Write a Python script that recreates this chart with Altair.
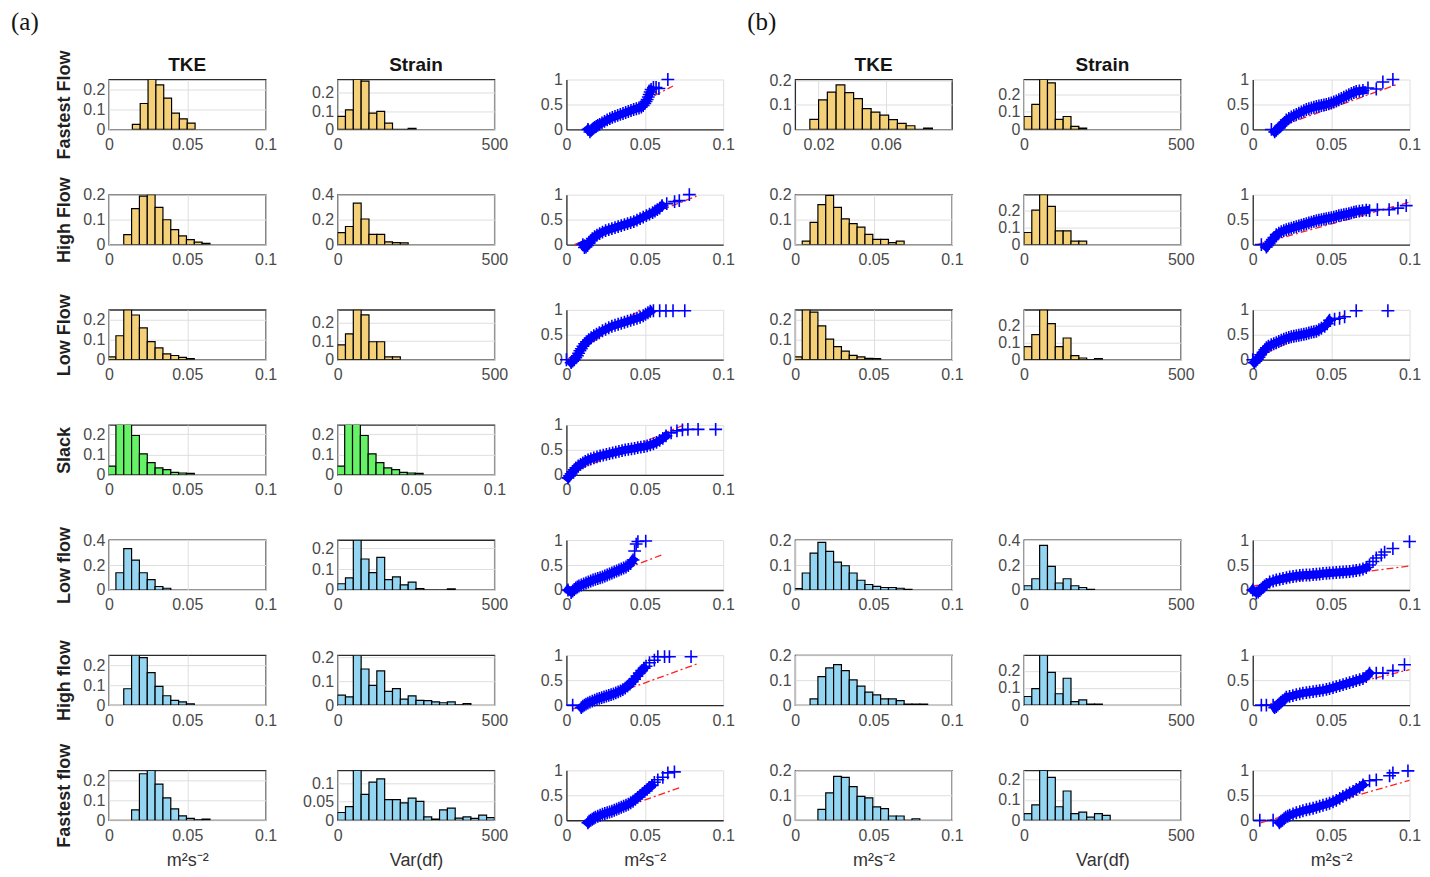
import altair as alt
import pandas as pd

# ---------------- labels ----------------
ROW_NAMES = ["Fastest Flow", "High Flow", "Low Flow", "Slack", "Low flow", "High flow", "Fastest flow"]
COL_TITLES = ["TKE", "Strain"]
X_UNIT = "m²s⁻²"
X_STRAIN = "Var(df)"

YELLOW = "#F4D079"
GREEN = "#66F266"
BLUE = "#94D6F2"
ROW_COLORS = [YELLOW, YELLOW, YELLOW, GREEN, BLUE, BLUE, BLUE]

# ---------------- histogram values (probability per bin) ----------------
a_tke_start = [0.015, 0.0095, -0.0005, -0.0005, 0.0045, 0.0095, 0.0145]
a_tke_width = [0.005, 0.005, 0.005, 0.005, 0.005, 0.005, 0.005]
a_tke_h0 = [0.025, 0.13, 0.25, 0.223, 0.157, 0.082, 0.053, 0.032]
a_tke_h1 = [0.04, 0.145, 0.195, 0.201, 0.15, 0.1, 0.06, 0.035, 0.02, 0.01, 0.005]
a_tke_h2 = [0.014, 0.12, 0.25, 0.224, 0.159, 0.091, 0.059, 0.029, 0.021, 0.012, 0.005]
a_tke_h3 = [0.043, 0.25, 0.25, 0.193, 0.103, 0.06, 0.034, 0.026, 0.012, 0.009, 0.007]
a_tke_h4 = [0.138, 0.331, 0.24, 0.138, 0.083, 0.028, 0.014]
a_tke_h5 = [0.082, 0.25, 0.238, 0.163, 0.094, 0.047, 0.024, 0.016, 0.007]
a_tke_h6 = [0.052, 0.233, 0.25, 0.181, 0.112, 0.057, 0.022, 0.009, 0.002, 0.006]
a_tke_ymax = [0.25, 0.201, 0.25, 0.245, 0.4, 0.25, 0.25]
a_tke_yticks = [[0, 0.1, 0.2], [0, 0.1, 0.2], [0, 0.1, 0.2], [0, 0.1, 0.2],
                [0, 0.2, 0.4], [0, 0.1, 0.2], [0, 0.1, 0.2]]

a_str_start = [0, 0, 0, -0.0005, 0, 0, 0]
a_str_width = [25, 25, 25, 0.005, 25, 25, 25]
a_str_h0 = [0.071, 0.107, 0.272, 0.263, 0.089, 0.098, 0.034, 0, 0, 0.006]
a_str_h1 = [0.096, 0.145, 0.332, 0.205, 0.082, 0.082, 0.022, 0.016, 0.014]
a_str_h2 = [0.08, 0.14, 0.27, 0.242, 0.097, 0.097, 0.015, 0.015]
a_str_h3 = [0.043, 0.25, 0.25, 0.193, 0.103, 0.06, 0.034, 0.026, 0.012, 0.009, 0.007]
a_str_h4 = [0.03, 0.058, 0.24, 0.149, 0.083, 0.157, 0.05, 0.063, 0.025, 0.038, 0.007, 0, 0, 0, 0.005]
a_str_h5 = [0.042, 0.035, 0.21, 0.152, 0.083, 0.144, 0.058, 0.069, 0.025, 0.039, 0.02, 0.019,
            0.014, 0.01, 0.014, 0.001, 0.006]
a_str_h6 = [0.021, 0.037, 0.135, 0.07, 0.103, 0.112, 0.056, 0.056, 0.047, 0.06, 0.051, 0.009,
            0.003, 0.028, 0.033, 0.006, 0.009, 0.005, 0.014, 0.007]
a_str_ymax = [0.272, 0.4, 0.27, 0.245, 0.24, 0.21, 0.135]
a_str_yticks = [[0, 0.1, 0.2], [0, 0.2, 0.4], [0, 0.1, 0.2], [0, 0.1, 0.2],
                [0, 0.1, 0.2], [0, 0.1, 0.2], [0, 0.05, 0.1]]

b_tke_start = [0.0148, 0.0045, -0.0005, -0.0005, 0.0095, 0.0145]
b_tke_width = [0.0052, 0.005, 0.005, 0.005, 0.005, 0.005]
b_tke_h0 = [0.041, 0.12, 0.152, 0.181, 0.15, 0.125, 0.085, 0.07, 0.058, 0.04, 0.025, 0.015, 0, 0.005]
b_tke_h1 = [0.014, 0.089, 0.16, 0.197, 0.149, 0.103, 0.084, 0.07, 0.041, 0.021, 0.021, 0.008, 0.014]
b_tke_h2 = [0.014, 0.25, 0.238, 0.169, 0.103, 0.066, 0.043, 0.022, 0.014, 0.007, 0.005]
b_tke_h3 = [0.006, 0.068, 0.148, 0.191, 0.155, 0.112, 0.097, 0.068, 0.039, 0.022, 0.0145, 0.01,
            0.01, 0.007, 0.003]
b_tke_h4 = [0.025, 0.114, 0.149, 0.162, 0.138, 0.101, 0.076, 0.052, 0.041, 0.025, 0.025, 0.018,
            0.004, 0.004, 0.004]
b_tke_h5 = [0.044, 0.11, 0.176, 0.172, 0.135, 0.096, 0.09, 0.054, 0.047, 0.017, 0.017, 0, 0.006]
b_tke_ymax = [0.203, 0.2, 0.25, 0.2, 0.2, 0.2]
b_tke_xdom0 = [0.0061, 0.0992]
b_tke_xticks0 = [0.02, 0.06]

b_str_h0 = [0.074, 0.143, 0.285, 0.266, 0.057, 0.074, 0.017, 0.008]
b_str_h1 = [0.07, 0.2, 0.29, 0.222, 0.08, 0.08, 0.02, 0.02]
b_str_h2 = [0.076, 0.146, 0.29, 0.21, 0.076, 0.126, 0.024, 0.01, 0, 0.006]
b_str_h3 = [0.034, 0.09, 0.358, 0.189, 0.056, 0.09, 0.034, 0.02, 0.006]
b_str_h4 = [0.05, 0.096, 0.29, 0.19, 0.066, 0.156, 0.02, 0.03, 0.006, 0.006]
b_str_h5 = [0.032, 0.075, 0.244, 0.21, 0.066, 0.143, 0.032, 0.04, 0.015, 0.032, 0.024]
b_str_ymax = [0.285, 0.29, 0.29, 0.4, 0.29, 0.244]
b_str_yticks = [[0, 0.1, 0.2], [0, 0.1, 0.2], [0, 0.1, 0.2], [0, 0.2, 0.4], [0, 0.1, 0.2], [0, 0.1, 0.2]]

# ---------------- QQ plot values ----------------
qq_a0_x = [0.0137, 0.0150, 0.0158, 0.0165, 0.0172, 0.0180, 0.0190, 0.0200, 0.0212, 0.0227, 0.0243, 0.0260,
           0.0277, 0.0293, 0.0310, 0.0327, 0.0344, 0.0361, 0.0378, 0.0395, 0.0412, 0.0429, 0.0446, 0.0463,
           0.0478, 0.0490, 0.0500, 0.0508, 0.0515, 0.0522, 0.0528, 0.0534, 0.0540, 0.0555, 0.0572, 0.0590,
           0.0647]
qq_a0_y = [0.0, -0.05, -0.02, 0.0, 0.02, 0.04, 0.06, 0.08, 0.10, 0.13, 0.16, 0.19, 0.215, 0.24, 0.26, 0.28,
           0.30, 0.32, 0.34, 0.36, 0.38, 0.40, 0.415, 0.43, 0.45, 0.48, 0.52, 0.56, 0.60, 0.65, 0.70, 0.75,
           0.80, 0.84, 0.84, 0.82, 1.0]
qq_a0_lx = [0.0137, 0.068]
qq_a0_ly = [-0.02, 0.87]

qq_a1_x = [0.0105, 0.0115, 0.0125, 0.0135, 0.0145, 0.0155, 0.0165, 0.0180, 0.0195, 0.0212, 0.0230, 0.0250,
           0.0270, 0.0290, 0.0310, 0.0330, 0.0350, 0.0370, 0.0390, 0.0410, 0.0430, 0.0450, 0.0470, 0.0490,
           0.0510, 0.0530, 0.0550, 0.0565, 0.0580, 0.0595, 0.0610, 0.0640, 0.0690, 0.0720, 0.0784]
qq_a1_y = [0.0, -0.06, -0.05, -0.02, 0.03, 0.08, 0.12, 0.16, 0.19, 0.22, 0.25, 0.28, 0.30, 0.32, 0.34, 0.36,
           0.38, 0.40, 0.42, 0.44, 0.46, 0.49, 0.52, 0.55, 0.58, 0.61, 0.64, 0.67, 0.70, 0.73, 0.78, 0.82,
           0.86, 0.88, 1.0]
qq_a1_lx = [0.005, 0.083]
qq_a1_ly = [0.0, 0.97]

qq_a2_x = [0.0, 0.003, 0.004, 0.005, 0.006, 0.007, 0.0078, 0.0086, 0.0095, 0.0105, 0.0116, 0.0128, 0.0142,
           0.0158, 0.0175, 0.0192, 0.021, 0.023, 0.025, 0.027, 0.029, 0.031, 0.033, 0.035, 0.037, 0.039,
           0.041, 0.043, 0.045, 0.047, 0.049, 0.0505, 0.052, 0.0535, 0.0555, 0.0595, 0.0635, 0.068, 0.0755]
qq_a2_y = [0.0, -0.06, -0.03, 0.0, 0.04, 0.08, 0.13, 0.18, 0.22, 0.27, 0.32, 0.36, 0.40, 0.44, 0.48, 0.51,
           0.54, 0.58, 0.61, 0.64, 0.67, 0.69, 0.71, 0.73, 0.75, 0.77, 0.79, 0.81, 0.83, 0.85, 0.88, 0.91,
           0.94, 0.97, 0.98, 0.98, 0.98, 0.98, 0.98]
qq_a2_lx = [0.001, 0.048]
qq_a2_ly = [0.02, 1.02]

qq_a3_x = [0.001, 0.002, 0.003, 0.004, 0.005, 0.006, 0.0075, 0.009, 0.0105, 0.012, 0.0138, 0.0156, 0.0175,
           0.0195, 0.0215, 0.0235, 0.0255, 0.0275, 0.0295, 0.0315, 0.0335, 0.0355, 0.0375, 0.0395, 0.0415,
           0.0435, 0.0455, 0.0475, 0.0495, 0.0515, 0.0535, 0.0555, 0.0575, 0.0595, 0.0615, 0.0635, 0.0668,
           0.0705, 0.074, 0.0775, 0.084, 0.0952]
qq_a3_y = [-0.06, -0.02, 0.02, 0.06, 0.1, 0.14, 0.18, 0.21, 0.24, 0.27, 0.3, 0.32, 0.34, 0.36, 0.38, 0.395,
           0.41, 0.425, 0.44, 0.455, 0.47, 0.485, 0.5, 0.51, 0.52, 0.53, 0.545, 0.555, 0.565, 0.58, 0.6,
           0.62, 0.65, 0.69, 0.73, 0.78, 0.84, 0.88, 0.9, 0.91, 0.91, 0.91]
qq_a3_lx = [0.0, 0.075]
qq_a3_ly = [0.0, 1.0]

qq_a4_x = [0.001, 0.003, 0.004, 0.005, 0.006, 0.007, 0.008, 0.0095, 0.011, 0.0125, 0.014, 0.0155, 0.017,
           0.0185, 0.02, 0.0215, 0.023, 0.0245, 0.026, 0.0275, 0.029, 0.0305, 0.032, 0.0335, 0.035, 0.0365,
           0.038, 0.0395, 0.041, 0.0425, 0.0435, 0.0445, 0.0456, 0.0506]
qq_a4_y = [0.0, -0.05, -0.02, 0.01, 0.04, 0.06, 0.08, 0.1, 0.12, 0.14, 0.16, 0.18, 0.2, 0.215, 0.23, 0.245,
           0.26, 0.28, 0.3, 0.32, 0.34, 0.36, 0.38, 0.4, 0.42, 0.44, 0.46, 0.49, 0.53, 0.6, 0.78, 0.92,
           0.97, 0.98]
qq_a4_lx = [0.003, 0.0605]
qq_a4_ly = [0.0, 0.70]

qq_a5_x = [0.004, 0.0095, 0.0105, 0.0115, 0.0125, 0.0137, 0.015, 0.0165, 0.018, 0.0195, 0.021, 0.0225, 0.024,
           0.0255, 0.027, 0.0285, 0.03, 0.0315, 0.033, 0.0345, 0.036, 0.0375, 0.039, 0.0405, 0.042, 0.0435,
           0.045, 0.0465, 0.048, 0.0495, 0.0508, 0.053, 0.0561, 0.0583, 0.0626, 0.0657, 0.0795]
qq_a5_y = [0.0, -0.05, -0.02, 0.0, 0.02, 0.04, 0.06, 0.08, 0.1, 0.12, 0.135, 0.15, 0.165, 0.18, 0.195, 0.21,
           0.225, 0.245, 0.265, 0.285, 0.31, 0.34, 0.38, 0.42, 0.47, 0.52, 0.58, 0.64, 0.69, 0.74, 0.78,
           0.85, 0.9, 0.97, 0.97, 0.97, 0.97]
qq_a5_lx = [0.004, 0.0837]
qq_a5_ly = [-0.08, 0.83]

qq_a6_x = [0.0137, 0.0145, 0.0155, 0.0165, 0.0175, 0.0185, 0.02, 0.0215, 0.023, 0.0245, 0.026, 0.0275, 0.029,
           0.0305, 0.032, 0.0335, 0.035, 0.0365, 0.038, 0.0395, 0.041, 0.0425, 0.044, 0.0455, 0.047, 0.0485,
           0.05, 0.0515, 0.053, 0.0545, 0.0561, 0.0583, 0.0615, 0.0647, 0.0689]
qq_a6_y = [-0.05, -0.02, 0.0, 0.02, 0.04, 0.06, 0.08, 0.1, 0.12, 0.135, 0.15, 0.165, 0.18, 0.2, 0.22, 0.24,
           0.26, 0.28, 0.3, 0.32, 0.35, 0.38, 0.42, 0.46, 0.5, 0.54, 0.58, 0.62, 0.66, 0.7, 0.76, 0.81,
           0.86, 0.95, 0.97]
qq_a6_lx = [0.0137, 0.072]
qq_a6_ly = [0.0, 0.65]

qq_b0_x = [0.0119, 0.014, 0.015, 0.016, 0.017, 0.018, 0.019, 0.0204, 0.0214, 0.023, 0.0246, 0.0262, 0.0278,
           0.0294, 0.031, 0.0326, 0.0342, 0.0358, 0.0374, 0.039, 0.0406, 0.0422, 0.0438, 0.0454, 0.0469,
           0.0485, 0.0501, 0.0517, 0.0533, 0.0549, 0.0565, 0.0581, 0.0597, 0.0613, 0.0629, 0.0645, 0.066,
           0.068, 0.0703, 0.0735, 0.0788, 0.083, 0.0894]
qq_b0_y = [0.0, -0.05, -0.02, 0.01, 0.04, 0.07, 0.1, 0.14, 0.19, 0.22, 0.25, 0.275, 0.3, 0.325, 0.35, 0.375,
           0.4, 0.415, 0.43, 0.445, 0.46, 0.47, 0.48, 0.49, 0.5, 0.515, 0.53, 0.55, 0.57, 0.595, 0.62, 0.645,
           0.67, 0.695, 0.72, 0.74, 0.76, 0.77, 0.78, 0.83, 0.81, 0.95, 1.0]
qq_b0_lx = [0.012, 0.092]
qq_b0_ly = [0.0, 0.9]

qq_b1_x = [0.0055, 0.0087, 0.0095, 0.0105, 0.0115, 0.0125, 0.0135, 0.015, 0.0166, 0.0182, 0.0198, 0.0214,
           0.023, 0.0246, 0.0262, 0.0278, 0.0294, 0.031, 0.0326, 0.0342, 0.0358, 0.0374, 0.039, 0.0406,
           0.0422, 0.0438, 0.0454, 0.0469, 0.0485, 0.0501, 0.0517, 0.0533, 0.0549, 0.0565, 0.0581, 0.0597,
           0.0613, 0.0629, 0.0645, 0.066, 0.068, 0.07, 0.0724, 0.0745, 0.0795, 0.087, 0.0926, 0.0979]
qq_b1_y = [0.0, -0.05, -0.02, 0.02, 0.06, 0.1, 0.14, 0.2, 0.23, 0.26, 0.28, 0.3, 0.315, 0.33, 0.345, 0.36,
           0.375, 0.39, 0.405, 0.42, 0.435, 0.45, 0.465, 0.48, 0.49, 0.5, 0.51, 0.52, 0.53, 0.54, 0.55,
           0.565, 0.58, 0.59, 0.6, 0.61, 0.62, 0.635, 0.65, 0.66, 0.67, 0.68, 0.69, 0.68, 0.7, 0.7, 0.73, 0.78]
qq_b1_lx = [0.003, 0.1]
qq_b1_ly = [0.0, 0.85]

qq_b2_x = [0.0, 0.001, 0.002, 0.003, 0.004, 0.005, 0.0066, 0.0077, 0.0087, 0.01, 0.0118, 0.0134, 0.015,
           0.0166, 0.0182, 0.0198, 0.0214, 0.023, 0.0246, 0.0262, 0.0278, 0.0294, 0.031, 0.0326, 0.0342,
           0.0358, 0.0374, 0.039, 0.0406, 0.0422, 0.0438, 0.0459, 0.0475, 0.049, 0.0522, 0.0554, 0.0586,
           0.066, 0.0862]
qq_b2_y = [0.0, -0.06, -0.03, 0.01, 0.05, 0.1, 0.15, 0.2, 0.24, 0.27, 0.3, 0.32, 0.34, 0.365, 0.39, 0.41,
           0.43, 0.445, 0.46, 0.47, 0.48, 0.49, 0.5, 0.51, 0.52, 0.535, 0.55, 0.56, 0.57, 0.6, 0.63, 0.67,
           0.72, 0.79, 0.81, 0.83, 0.86, 0.98, 0.98]
qq_b2_lx = [0.0, 0.06]
qq_b2_ly = [0.0, 0.92]

qq_b3_x = [0.0, 0.0023, 0.0035, 0.0045, 0.0055, 0.0065, 0.0075, 0.0087, 0.0108, 0.013, 0.015, 0.0172, 0.0193,
           0.0215, 0.0236, 0.0257, 0.0278, 0.03, 0.032, 0.0342, 0.0363, 0.0385, 0.0406, 0.0427, 0.0448,
           0.047, 0.049, 0.0512, 0.0533, 0.0555, 0.0576, 0.0597, 0.0618, 0.064, 0.066, 0.0682, 0.0703,
           0.0724, 0.0745, 0.0767, 0.0788, 0.082, 0.0841, 0.0894, 0.1]
qq_b3_y = [0.0, -0.06, -0.04, -0.01, 0.02, 0.05, 0.08, 0.11, 0.16, 0.18, 0.2, 0.215, 0.23, 0.245, 0.26, 0.27,
           0.28, 0.29, 0.295, 0.3, 0.3, 0.31, 0.315, 0.32, 0.33, 0.335, 0.34, 0.345, 0.35, 0.355, 0.36,
           0.365, 0.37, 0.38, 0.39, 0.4, 0.42, 0.45, 0.5, 0.57, 0.64, 0.7, 0.76, 0.83, 0.97]
qq_b3_lx = [0.0, 0.1]
qq_b3_ly = [0.08, 0.48]

qq_b4_x = [0.0055, 0.0087, 0.013, 0.014, 0.015, 0.016, 0.017, 0.018, 0.019, 0.0204, 0.0214, 0.0235, 0.0256,
           0.0278, 0.03, 0.032, 0.0342, 0.0363, 0.0385, 0.0406, 0.0427, 0.0448, 0.047, 0.049, 0.0512, 0.0533,
           0.0555, 0.0576, 0.0597, 0.0618, 0.064, 0.066, 0.0682, 0.0703, 0.0724, 0.0745, 0.0788, 0.083,
           0.0894, 0.0968]
qq_b4_y = [0.0, 0.0, 0.0, -0.05, -0.03, 0.0, 0.03, 0.06, 0.09, 0.12, 0.16, 0.175, 0.19, 0.21, 0.225, 0.24,
           0.25, 0.26, 0.27, 0.28, 0.29, 0.3, 0.315, 0.33, 0.35, 0.37, 0.39, 0.41, 0.43, 0.45, 0.47, 0.49,
           0.51, 0.53, 0.57, 0.64, 0.64, 0.64, 0.69, 0.81]
qq_b4_lx = [0.005, 0.1]
qq_b4_ly = [-0.02, 0.71]

qq_b5_x = [0.0045, 0.013, 0.017, 0.018, 0.019, 0.02, 0.021, 0.0223, 0.0236, 0.0257, 0.0278, 0.03, 0.032,
           0.0342, 0.0363, 0.0385, 0.0406, 0.0427, 0.0448, 0.047, 0.049, 0.0512, 0.0533, 0.0555, 0.0575,
           0.0597, 0.0618, 0.064, 0.066, 0.0682, 0.0703, 0.0745, 0.0788, 0.0873, 0.0894, 0.099]
qq_b5_y = [0.0, 0.0, -0.05, -0.02, 0.0, 0.03, 0.06, 0.08, 0.1, 0.125, 0.15, 0.17, 0.19, 0.21, 0.225, 0.24,
           0.26, 0.28, 0.3, 0.32, 0.34, 0.37, 0.4, 0.44, 0.48, 0.51, 0.55, 0.58, 0.62, 0.66, 0.71, 0.79,
           0.81, 0.89, 0.95, 0.99]
qq_b5_lx = [0.005, 0.1]
qq_b5_ly = [-0.05, 0.8]

# which consecutive points form the solid dense band (start index, end index)
qq_a_core = [(0, 33), (0, 31), (1, 34), (0, 36), (0, 30), (1, 30), (0, 30)]
qq_b_core = [(1, 39), (1, 43), (1, 34), (0, 38), (3, 36), (2, 31)]

# ---------------- styling ----------------
W, H = 157, 50
ROW_GAP, COL_GAP = 65.3, 72.1
FONT = "Liberation Sans"
LABEL_COLOR = "#4a4a4a"
GRID = "#dedede"
BOX = "#2b2b2b"
CROSS = "M-1,0L1,0M0,-1L0,1"


def axis(values, orient, title=None, domain=False):
    kw = dict(values=values, format="~r", grid=True, gridColor=GRID, ticks=False,
              labelFontSize=16, labelColor=LABEL_COLOR, labelFont=FONT,
              labelPadding=7 if orient == "x" else 4,
              labelFlush=False, labelOverlap=False, domain=domain)
    if domain:
        kw.update(domainColor=BOX, domainWidth=1.3)
    if title and orient == "x":
        kw.update(title=title, titleX=W / 2, titleY=40, titleAlign="center", titleBaseline="middle",
                  titleFontSize=18, titleFontWeight="normal", titleFont=FONT, titleColor="#333333")
    elif title:
        kw.update(title=title, titleX=-44, titleY=H / 2, titleAngle=270, titleAlign="center",
                  titleBaseline="middle", titleFontSize=18, titleFontWeight="bold", titleFont=FONT,
                  titleColor="#1f1f1f")
    else:
        kw.update(title=None)
    return alt.Axis(**kw)


def text_layer(text, dx, dy, font, size, weight, align, baseline):
    return alt.Chart(pd.DataFrame({"t": [text]})).mark_text(
        align=align, baseline=baseline, font=font, fontSize=size, fontWeight=weight, color="#141414"
    ).encode(x=alt.value(dx), y=alt.value(dy), text="t:N")


def hist_panel(start, width, heights, ymax, yticks, xdom, xticks, color,
               ytitle=None, title=None, xtitle=None, label=None):
    x0 = [start + i * width for i in range(len(heights))]
    df = pd.DataFrame({"x0": x0, "x1": [v + width for v in x0], "h": heights, "y0": [0.0] * len(heights)})
    bars = alt.Chart(df).mark_rect(fill=color, stroke="black", strokeWidth=1.2, clip=True).encode(
        x=alt.X("x0:Q", scale=alt.Scale(domain=xdom, nice=False, zero=False), axis=axis(xticks, "x", xtitle)),
        x2="x1:Q",
        y=alt.Y("y0:Q", scale=alt.Scale(domain=[0, ymax], nice=False, zero=False),
                axis=axis(yticks, "y", ytitle)),
        y2="h:Q",
    )
    layers = [bars]
    if title:
        layers.append(text_layer(title, W / 2, -9, FONT, 19, "bold", "center", "alphabetic"))
    if label is not None:
        layers.append(text_layer(label[0], label[1], -70, "Liberation Serif", 25, "normal", "left", "top"))
    return alt.layer(*layers).properties(width=W, height=H,
                                         view=alt.ViewBackground(stroke=BOX, strokeWidth=1.3))


def qq_panel(xs, ys, lx, ly, core, xtitle=None):
    pts = pd.DataFrame(list(zip(xs, ys)), columns=["x", "y"])
    pts["i"] = range(len(pts))
    band = pts.iloc[core[0]:core[1]]
    ln = pd.DataFrame(list(zip(lx, ly)), columns=["x", "y"])
    xs_ = alt.Scale(domain=[0, 0.1], nice=False, zero=False)
    ys_ = alt.Scale(domain=[0, 1], nice=False, zero=False)
    xa = axis([0, 0.05, 0.1], "x", xtitle, domain=True)
    ya = axis([0, 0.5, 1], "y", None, domain=True)
    line = alt.Chart(ln).mark_line(color="#ff2020", strokeWidth=1.3, strokeDash=[7, 3, 2, 3]).encode(
        x=alt.X("x:Q", scale=xs_, axis=xa), y=alt.Y("y:Q", scale=ys_, axis=ya))
    thick = alt.Chart(band).mark_line(color="#0000ff", strokeWidth=8, strokeCap="square",
                                      strokeJoin="round").encode(
        x=alt.X("x:Q", scale=xs_, axis=xa), y=alt.Y("y:Q", scale=ys_, axis=ya), order="i:Q")
    crosses = alt.Chart(pts).mark_point(shape=CROSS, size=165, filled=False, color="#0000ff",
                                        strokeWidth=1.6, opacity=1).encode(
        x=alt.X("x:Q", scale=xs_, axis=xa), y=alt.Y("y:Q", scale=ys_, axis=ya))
    return alt.layer(line, thick, crosses).properties(
        width=W, height=H, view=alt.ViewBackground(stroke="transparent"))


def empty_panel():
    return alt.Chart(pd.DataFrame({"v": [0]})).mark_point(opacity=0).encode(
        x=alt.X("v:Q", axis=None), y=alt.Y("v:Q", axis=None)
    ).properties(width=W, height=H, view=alt.ViewBackground(stroke="transparent"))


a_tke_h = [a_tke_h0, a_tke_h1, a_tke_h2, a_tke_h3, a_tke_h4, a_tke_h5, a_tke_h6]
a_str_h = [a_str_h0, a_str_h1, a_str_h2, a_str_h3, a_str_h4, a_str_h5, a_str_h6]
b_tke_h = [b_tke_h0, b_tke_h1, b_tke_h2, b_tke_h3, b_tke_h4, b_tke_h5]
b_str_h = [b_str_h0, b_str_h1, b_str_h2, b_str_h3, b_str_h4, b_str_h5]
qq_a = [(qq_a0_x, qq_a0_y, qq_a0_lx, qq_a0_ly), (qq_a1_x, qq_a1_y, qq_a1_lx, qq_a1_ly),
        (qq_a2_x, qq_a2_y, qq_a2_lx, qq_a2_ly), (qq_a3_x, qq_a3_y, qq_a3_lx, qq_a3_ly),
        (qq_a4_x, qq_a4_y, qq_a4_lx, qq_a4_ly), (qq_a5_x, qq_a5_y, qq_a5_lx, qq_a5_ly),
        (qq_a6_x, qq_a6_y, qq_a6_lx, qq_a6_ly)]
qq_b = [(qq_b0_x, qq_b0_y, qq_b0_lx, qq_b0_ly), (qq_b1_x, qq_b1_y, qq_b1_lx, qq_b1_ly),
        (qq_b2_x, qq_b2_y, qq_b2_lx, qq_b2_ly), (qq_b3_x, qq_b3_y, qq_b3_lx, qq_b3_ly),
        (qq_b4_x, qq_b4_y, qq_b4_lx, qq_b4_ly), (qq_b5_x, qq_b5_y, qq_b5_lx, qq_b5_ly)]
B_ROWS = [0, 1, 2, 4, 5, 6]

panels = []
for r in range(7):
    last = r == 6
    first = r == 0
    panels.append(hist_panel(a_tke_start[r], a_tke_width[r], a_tke_h[r], a_tke_ymax[r], a_tke_yticks[r],
                             [0, 0.1], [0, 0.05, 0.1], ROW_COLORS[r], ytitle=ROW_NAMES[r],
                             title=COL_TITLES[0] if first else None,
                             xtitle=X_UNIT if last else None,
                             label=("(a)", -98) if first else None))
    if r == 3:
        sdom, sticks = [0, 0.1], [0, 0.05, 0.1]
    else:
        sdom, sticks = [0, 500], [0, 500]
    panels.append(hist_panel(a_str_start[r], a_str_width[r], a_str_h[r], a_str_ymax[r], a_str_yticks[r],
                             sdom, sticks, ROW_COLORS[r], title=COL_TITLES[1] if first else None,
                             xtitle=X_STRAIN if last else None))
    qx, qy, lx, ly = qq_a[r]
    panels.append(qq_panel(qx, qy, lx, ly, qq_a_core[r], xtitle=X_UNIT if last else None))
    if r in B_ROWS:
        k = B_ROWS.index(r)
        if k == 0:
            xdom, xt = b_tke_xdom0, b_tke_xticks0
        else:
            xdom, xt = [0, 0.1], [0, 0.05, 0.1]
        panels.append(hist_panel(b_tke_start[k], b_tke_width[k], b_tke_h[k], b_tke_ymax[k], [0, 0.1, 0.2],
                                 xdom, xt, ROW_COLORS[r], title=COL_TITLES[0] if first else None,
                                 xtitle=X_UNIT if last else None,
                                 label=("(b)", -48) if first else None))
        panels.append(hist_panel(0, 25, b_str_h[k], b_str_ymax[k], b_str_yticks[k],
                                 [0, 500], [0, 500], ROW_COLORS[r], title=COL_TITLES[1] if first else None,
                                 xtitle=X_STRAIN if last else None))
        qx, qy, lx, ly = qq_b[k]
        panels.append(qq_panel(qx, qy, lx, ly, qq_b_core[k], xtitle=X_UNIT if last else None))
    else:
        panels.extend([empty_panel(), empty_panel(), empty_panel()])

chart = alt.concat(*panels, columns=6, spacing={"row": ROW_GAP, "column": COL_GAP},
                   bounds="flush").properties(
    padding={"left": 2, "top": 0, "right": 0, "bottom": 0}
).configure(font=FONT)

chart.save("out.html", embed_options={"renderer": "svg", "actions": False})
